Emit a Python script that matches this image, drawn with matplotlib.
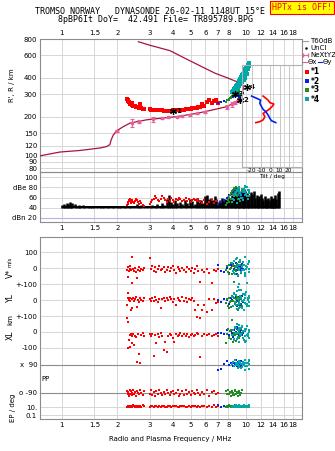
import numpy as np
import matplotlib
matplotlib.use('Agg')
import matplotlib.pyplot as plt
from matplotlib.lines import Line2D

plt.rcParams['font.family'] = 'DejaVu Sans'
plt.rcParams['font.size'] = 5

# ---- frequency axis ----
xticks_main = [1, 1.5, 2, 3, 4, 5, 6, 7, 8, 10, 12, 14, 16, 18]
xticks_amp = [1, 1.5, 2, 3, 4, 5, 6, 7, 8, 9, 10, 12, 14, 16, 18]

# ---- electron density profile (plasma freq MHz, height km) ----
prof_f = [0.76, 0.975, 1.25, 1.61, 1.75, 1.82, 1.85, 1.9, 1.98, 2.15, 2.34, 2.89, 3.4, 4.2,
          5.4, 6.36, 7.86, 8.5, 9.1, 9.5, 9.65, 9.6, 8.9, 8.0, 6.78, 5.74, 4.66, 3.86, 3.01, 2.6]
prof_h = [100, 107, 110, 115, 118, 122, 133, 145, 156, 168, 179, 190, 195, 201,
          213, 224, 240, 255, 270, 300, 330, 353, 374, 398, 435, 489, 567, 650, 715, 762]

# profile points with error bars (NeXtYZ)
err_f = [1.98, 2.39, 2.63, 3.13, 3.48, 3.78, 4.2, 4.47, 4.96, 5.4, 6.0, 7.86, 8.38, 8.7, 9.07]
err_h = [156, 179, 184, 192, 195, 198, 201, 204, 208, 213, 219, 240, 250, 258, 266]
err_d = [3, 12, 6, 8, 3, 3, 3, 3, 3, 3, 3, 8, 10, 8, 6]

# ---- tilt profiles (deg, km) ----
tx_deg = [-7.8, -2.4, -0.5, 3.8, 2.4, -1.3, -4.9, -7.8, -5.9, -7.8, -11.4, -15.7]
tx_h = [290, 270, 258, 252, 243, 229, 220, 213, 201, 190, 184, 181]
ty_deg = [-20.3, -14.9, -10.6, -11.4, -9.5, -7.8, -4.9, -2.4, -0.5, 1.3, 5.9]
ty_h = [290, 279, 270, 255, 240, 229, 220, 207, 195, 187, 181]

# ---- echoes: *1 red ----
red_f = [2.25, 2.27, 2.29, 2.31, 2.33, 2.35, 2.37, 2.39, 2.41, 2.43, 2.46, 2.49, 2.52, 2.55, 2.58,
         2.62, 2.66, 2.7, 2.75, 2.8, 3.0, 3.05, 3.1, 3.15, 3.2, 3.26, 3.32, 3.38, 3.44, 3.5,
         3.57, 3.64, 3.71, 3.78, 3.85, 3.92, 4.0, 4.08, 4.16, 4.24, 4.32, 4.4, 4.5, 4.6, 4.7,
         4.8, 4.9, 5.0, 5.1, 5.2, 5.3, 5.4, 5.5, 5.6, 5.75, 5.9, 6.1, 6.3, 6.5, 6.7, 6.9, 7.0]
red_h = [275, 270, 265, 260, 256, 253, 250, 258, 246, 244, 243, 241, 240, 238, 237,
         236, 250, 233, 232, 231, 229, 228, 228, 227, 227, 226, 226, 225, 225, 225,
         224, 224, 224, 224, 224, 224, 225, 225, 225, 226, 226, 227, 227, 228, 229,
         230, 231, 232, 233, 234, 235, 236, 238, 240, 252, 244, 262, 270, 258, 266, 270, 258]
red_amp = [46, 48, 52, 55, 54, 57, 50, 53, 56, 52, 49, 54, 57, 55, 51, 48, 53, 50, 46, 44,
           48, 52, 55, 58, 62, 60, 56, 53, 58, 63, 60, 55, 52, 57, 54, 59, 56, 52, 58, 55,
           60, 57, 53, 56, 59, 54, 57, 52, 55, 58, 56, 53, 57, 54, 50, 55, 48, 52, 56, 50, 54, 47]
red_v = [-10, 5, -54, -20, -5, 12, -15, 70, -94, -8, -18, 3, -25, -62, -12, 8, -20, -5, -15, 2,
         65, -8, 10, -18, 5, -22, -3, 12, -15, -6, 8, -25, -10, 4, -18, -2, 10, -14, -28, 6,
         -8, -20, 3, -12, -24, 9, -5, -16, 2, -30, -8, 12, -18, -86, -10, -22, -6, -30, -96, -14, -20, -8]
red_yl = [-31, 10, 44, 2, -8, 15, -62, 5, -50, 12, -5, 8, 18, -42, 3, -10, 14, 0, -6, 10,
          6, -4, 12, -8, 16, 2, -12, 8, -50, 4, 14, -6, 10, -2, 18, 5, -10, 8, -30, 12,
          2, -8, 16, -4, 10, -14, 6, 0, 12, -8, -62, -104, -31, -112, -62, -31, -73, 4, -62, 8, -20, -10]
red_xl = [86, 64, -102, -50, -20, -92, -15, -71, -25, -10, -81, -22, -30, -185, -12,
          -138, -195, -18, -8, -25, -15, -28, -10, -150, -20, -71, -12, -30, -8, -22,
          -113, -61, -123, -28, -10, -20, -35, -61, -12, -25, -18, -8, -28, -15, -22,
          -10, -30, -18, -12, -26, -20, -8, -15, -154, -25, -10, -20, -12, -28, -18, -10, -22]
red_pp = [-75, -100, -85, -110, -70, -95, -80, -105, -90, -72, -98, -84, -108, -76, -92, -100, -70, -88, -104, -80,
          -94, -74, -102, -86, -110, -78, -96, -70, -90, -106, -82, -98, -74, -92, -104, -86, -76, -100, -88, -72,
          -108, -94, -80, -102, -70, -96, -84, -106, -78, -92, -100, -74, -88, -104, -82, -96, -72, -108, -86, -76, -100, -90]
red_ep = [12, 18, 10, 22, 15, 9, 20, 14, 11, 25, 16, 8, 19, 13, 21, 10, 17, 12, 24, 15,
          11, 18, 14, 9, 22, 16, 12, 20, 10, 15, 19, 13, 8, 17, 23, 11, 14, 20, 16, 9,
          12, 18, 15, 22, 10, 13, 19, 11, 16, 21, 14, 9, 18, 12, 15, 20, 10, 17, 13, 24, 11, 16]

# ---- echoes: *2 blue ----
blue_f = [7.0, 7.3, 7.6, 7.9, 8.1, 8.3, 8.5, 8.6, 8.7, 8.8, 8.9, 9.0, 9.1, 9.2, 9.3, 9.4, 9.5, 9.6, 8.4, 8.95, 9.15, 9.35]
blue_h = [258, 262, 266, 272, 276, 280, 284, 288, 290, 292, 294, 296, 298, 300, 290, 296, 302, 305, 286, 300, 286, 294]
blue_amp = [48, 52, 56, 60, 64, 66, 70, 72, 68, 74, 76, 70, 66, 72, 62, 68, 74, 60, 58, 64, 70, 66]
blue_v = [18, -20, -25, 2, -30, 20, 25, -5, 15, 30, -10, 5, 35, 22, -15, 8, 28, -8, 10, -38, 12, 0]
blue_yl = [-2, -10, 5, 0, -28, 12, -8, 15, -20, 20, -5, 10, -30, -14, 6, -22, 25, -10, 0, -35, 18, -40]
blue_xl = [-8, -5, -12, 10, -20, 5, -30, 15, -10, -2, 20, -15, 8, -25, 0, 12, -18, -5, -8, 30, -28, -12]
blue_pp = [60, 65, 95, 115, 90, 105, 85, 100, 95, 120, 80, 110, 90, 100, 85, 115, 95, 105, 100, 90, 110, 88]
blue_ep = [35, 12, 20, 10, 18, 14, 22, 11, 16, 25, 13, 9, 19, 12, 17, 21, 10, 14, 16, 12, 20, 11]

# ---- echoes: *3 green ----
green_f = [7.8, 7.9, 8.0, 8.1, 8.2, 8.3, 8.4, 8.5, 8.6, 8.7, 8.8, 8.9, 9.0, 9.1, 9.2, 9.3, 9.4, 9.5,
           8.05, 8.25, 8.45, 8.65, 8.85, 9.05]
green_h = [262, 268, 272, 276, 280, 284, 288, 292, 296, 300, 304, 308, 312, 316, 306, 300, 296, 310,
           270, 282, 290, 300, 298, 305]
green_amp = [46, 50, 55, 60, 64, 68, 72, 75, 78, 70, 66, 62, 58, 74, 68, 54, 60, 72, 52, 58, 66, 76, 80, 64]
green_v = [-15, 10, -25, 20, -5, 30, -35, 15, -90, 5, -20, 25, -8, 40, -12, 18, -28, 10, -40, -2, 22, -15, 8, -50]
green_yl = [-20, 5, -35, 15, -10, -45, 25, -5, 10, -28, -15, 20, -60, 0, 12, -22, 8, -38, -50, -8, 18, -12, 5, -30]
green_xl = [-70, -10, 20, -30, 5, -45, 75, -20, -5, 25, -55, -15, 10, -35, 0, -25, 18, -8, -40, 12, -65, -20, 28, -5]
green_pp = [-80, -100, -70, -95, -85, -110, -75, -90, -105, -72, -98, -82, -108, -88, -76, -102, -92, -70,
            -96, -84, -106, -78, -94, -88]
green_ep = [12, 18, 9, 22, 14, 10, 20, 16, 11, 25, 13, 8, 19, 15, 21, 10, 17, 12, 24, 14, 9, 18, 11, 16]

# ---- echoes: *4 cyan ----
cyan_f = [8.4, 8.5, 8.6, 8.7, 8.8, 8.9, 9.0, 9.1, 9.2, 9.3, 9.4, 9.5, 9.6, 9.7, 9.8, 9.9, 10.0, 10.1, 10.2,
          10.3, 10.4, 8.6, 8.8, 9.0, 9.2, 9.4, 9.6, 9.8, 10.0, 10.2, 10.3, 8.9, 9.1, 9.3, 9.5, 9.7, 9.9, 10.1, 10.35]
cyan_h = [312, 318, 326, 335, 345, 352, 362, 372, 382, 392, 405, 418, 430, 442, 455, 465, 478, 490, 500,
          512, 522, 308, 322, 335, 350, 370, 395, 420, 445, 470, 495, 330, 345, 360, 375, 388, 400, 430, 505]
cyan_amp = [52, 58, 62, 66, 70, 74, 78, 80, 72, 68, 64, 60, 56, 76, 82, 70, 66, 62, 58, 74,
            68, 55, 64, 72, 78, 60, 70, 80, 66, 74, 62, 50, 58, 68, 76, 72, 64, 80, 70]
cyan_v = [30, -20, 45, -35, 10, 60, -44, 20, -10, 50, -25, 5, 35, -15, 70, -40, 15, -94, 25, -5,
          40, -30, 55, -120, 0, -137, 18, -50, -8, 28, -22, 12, -100, 38, -12, 22, -28, 8, 45]
cyan_yl = [20, -35, 45, -10, 30, -55, 5, -25, 60, -45, 15, -5, 35, -60, 10, -20, 50, -40, 0, 25,
           -15, 40, -30, 8, -50, 18, -8, 30, -22, 12, -38, 55, -12, 22, -48, 2, 38, -28, 10]
cyan_xl = [-20, 15, -45, 30, -5, 50, -30, 10, -60, 25, -15, 40, -40, 5, -25, 20, -55, 35, -10, -35,
           15, -50, 28, -8, 45, -20, 8, -65, 18, -28, 0, -42, 22, -12, 32, -52, 6, -18, 12]
cyan_pp = [95, 110, 80, 120, 90, 105, 70, 115, 85, 100, 95, 75, 110, 90, 120, 60, 100, 85, 105, 95,
           115, 80, 100, 90, 110, 70, 95, 105, 85, 100, 120, 90, 75, 110, 95, 100, 85, 105, 65]
cyan_ep = [10, 15, 8, 20, 12, 18, 9, 25, 14, 11, 22, 16, 10, 30, 13, 19, 8, 15, 21, 12,
           17, 9, 24, 14, 11, 18, 13, 20, 10, 16, 28, 12, 15, 9, 19, 14, 22, 11, 17]

# trace labels (freq, height, label)
mark_f = [4.0, 9.3, 8.75, 10.06]
mark_h = [222, 272, 302, 339]
mark_txt = ['1', '2', '3', '4']

# ---- noise amplitude (black) ----
noise_f = [1.0, 1.02, 1.04, 1.06, 1.08, 1.1, 1.12, 1.14,
           1.17, 1.2, 1.23, 1.26, 1.3, 1.34, 1.38, 1.42, 1.46,
           1.5, 1.55, 1.6, 1.65, 1.7, 1.75, 1.8, 1.86, 1.92, 1.98,
           2.04, 2.1, 2.17, 2.24, 2.31, 2.38, 2.46, 2.54, 2.62, 2.7, 2.8, 2.9,
           3.0, 3.1, 3.2, 3.3, 3.4, 3.5, 3.6, 3.7, 3.8, 3.9, 4.0, 4.1, 4.2,
           4.35, 4.5, 4.65, 4.8, 4.95, 5.1, 5.25, 5.4, 5.55, 5.7, 5.85, 6.0,
           6.15, 6.3, 6.45, 6.6, 6.75, 6.9, 7.05, 7.2, 7.35, 7.5,
           7.65, 7.8, 7.95, 8.1, 8.25, 8.4, 8.55, 8.7, 8.85, 9.0,
           9.15, 9.3, 9.45, 9.6, 9.75, 9.9, 10.05, 10.2,
           10.4, 10.6, 10.8, 11.0, 11.2, 11.4, 11.6, 11.8, 12.0,
           12.2, 12.4, 12.6, 12.8, 13.0, 13.2, 13.4, 13.6, 13.8, 14.0, 14.2, 14.4, 14.6, 14.8, 15.0]
noise_top = [46, 48, 44, 50, 47, 52, 45, 49,
             47, 44, 46, 43, 45, 42, 44, 43, 42,
             43, 42, 44, 42, 43, 42, 43, 42, 44, 42,
             42, 43, 42, 42, 43, 44, 42, 47, 43, 45, 42, 44,
             43, 45, 42, 48, 44, 50, 46, 58, 65, 52, 48, 55, 50,
             52, 48, 56, 50, 58, 54, 48, 60, 52, 56, 50, 62,
             64, 58, 60, 55, 62, 58, 52, 56, 60, 54,
             58, 56, 62, 60, 58, 64, 62, 68, 66, 70,
             72, 68, 74, 70, 76, 72, 68, 64,
             62, 70, 66, 72, 60, 64, 58, 62, 66,
             60, 56, 62, 58, 54, 60, 56, 62, 58, 60, 56, 64, 58, 68, 72]

# ---- bottom block row positions (axis units) ----
ROW_V, ROW_YL, ROW_XL = 0, -200, -400
PP_X90, PP_O90 = -606, -781
EP_10, EP_01 = -869, -919


def pp_y(pp):
    return PP_O90 + (np.asarray(pp) + 90) * (PP_X90 - PP_O90) / 180.0


def ep_y(ep):
    return EP_01 + (np.log10(ep) + 1) * (EP_10 - EP_01) / 2.0


W, H = 335.0, 451.0


def box(l, t, r, b):
    return [l / W, 1 - b / H, (r - l) / W, (b - t) / H]


fig = plt.figure(figsize=(3.35, 4.51), dpi=100)
ax1 = fig.add_axes(box(40, 39, 302, 172))
ax2 = fig.add_axes(box(40, 172, 302, 222))
ax3 = fig.add_axes(box(40, 237, 302, 419))
axt = fig.add_axes(box(241.7, 65, 301.7, 167))

gcol = '#d6d6d6'
for ax in (ax1, ax2, ax3):
    ax.set_facecolor('none')
    ax.set_xscale('log')
    ax.set_xlim(0.76, 20.1)
    ax.tick_params(length=0, labelsize=5, pad=2)
    ax.grid(True, color=gcol, lw=0.7)
    ax.set_axisbelow(True)
    for s in ax.spines.values():
        s.set_color('#8c8c8c')
        s.set_linewidth(0.8)

# top panel
ax1.set_yscale('log')
ax1.set_ylim(75, 800)
for ax in (ax1, ax2, ax3):
    ax.minorticks_off()
ax1.set_xticks(xticks_main)
ax1.set_xticklabels([str(t) for t in xticks_main])
ax1.tick_params(labeltop=True, labelbottom=False)
yt1 = [80, 90, 100, 120, 150, 200, 300, 400, 600, 800]
ax1.set_yticks(yt1)
ax1.set_yticklabels([str(t) for t in yt1])
ax1.minorticks_off()

ax1.plot(prof_f, prof_h, color='#a8143c', lw=0.9, zorder=3)
ax1.errorbar(err_f, err_h, yerr=err_d, fmt='s', ms=1.6, color='#e8609a', ecolor='#e8609a',
             elinewidth=0.8, capsize=1.5, capthick=0.8, zorder=4)

ms = 1.8
ax1.plot(red_f, red_h, 's', color='#ff0000', ms=2.2, mew=0, zorder=5)
ax1.plot(blue_f, blue_h, 's', color='#0022ee', ms=2.0, mew=0, zorder=5)
ax1.plot(green_f, green_h, 's', color='#228b22', ms=2.0, mew=0, zorder=5)
ax1.plot(cyan_f, cyan_h, 's', color='#00a8a8', ms=2.2, mew=0, zorder=5)
for f, h, t in zip(mark_f, mark_h, mark_txt):
    ax1.plot(f, h, marker=(6, 2, 0), color='black', ms=5, mew=0.9, zorder=6)
    ax1.annotate(t, (f, h), xytext=(2.5, 0), textcoords='offset points', fontsize=5,
                 fontweight='bold', va='center', zorder=6)

# tilt inset
axt.set_facecolor('none')
axt.set_yscale('log')
axt.set_ylim(82.2, 504)
axt.set_xlim(-31, 34)
axt.minorticks_off()
axt.set_yticks([])
axt.set_xticks([-20, -10, 0, 10, 20])
axt.set_xticklabels(['-20', '-10', '0', '10', '20'])
axt.tick_params(length=0, labelsize=4.2, pad=0.8)
axt.set_xlabel('Tilt / deg', fontsize=4.2, labelpad=0.3)
axt.grid(True, axis='x', color='#c8c8c8', lw=0.7)
for s in axt.spines.values():
    s.set_color('#b0b0b0')
    s.set_linewidth(0.8)
axt.plot(tx_deg, tx_h, color='#ff0000', lw=1.2)
axt.plot(ty_deg, ty_h, color='#0022ee', lw=1.2)

# amplitude panel
ax2.set_ylim(12, 110)
ax2.set_xticks(xticks_amp)
ax2.set_xticklabels([str(t) for t in xticks_amp])
ax2.set_yticks([20, 40, 60, 80, 100])
ax2.set_yticklabels(['dBn 20', '40', '60', 'dBe 80', '100'])
ax2.minorticks_off()
ax2.axhline(20, color='#b4b4e6', lw=0.8, zorder=1)
ax2.vlines(noise_f, 40, noise_top, color='black', lw=1.8, zorder=3)
ax2.fill_between(noise_f, 40, 42.5, color='black', lw=0, zorder=3)
ax2.plot(red_f, red_amp, 's', color='#ff0000', ms=ms, mew=0, zorder=4)
ax2.plot(blue_f, blue_amp, 's', color='#0022ee', ms=ms, mew=0, zorder=4)
ax2.plot(green_f, green_amp, 's', color='#228b22', ms=ms, mew=0, zorder=4)
ax2.plot(cyan_f, cyan_amp, 's', color='#00a8a8', ms=ms, mew=0, zorder=4)

# bottom block
ax3.set_ylim(-944, 194)
ax3.set_xticks(xticks_main)
ax3.set_xticklabels([str(t) for t in xticks_main])
yt3 = [100, 0, -100, -200, -300, -400, -500, PP_X90, PP_O90, EP_10, EP_01]
ax3.set_yticks(yt3)
ax3.set_yticklabels(['100', '0', '+-100', '0', '+-100', '0', '-100', 'x  90', 'o -90', '10.', '0.1'])
ax3.minorticks_off()
ax3.axhline(PP_X90, color='#8c8c8c', lw=0.8, zorder=1)
ax3.axhline(PP_O90, color='#8c8c8c', lw=0.8, zorder=1)

series = [
    (red_f, red_v, red_yl, red_xl, red_pp, red_ep, '#ff0000'),
    (blue_f, blue_v, blue_yl, blue_xl, blue_pp, blue_ep, '#0022ee'),
    (green_f, green_v, green_yl, green_xl, green_pp, green_ep, '#228b22'),
    (cyan_f, cyan_v, cyan_yl, cyan_xl, cyan_pp, cyan_ep, '#00a8a8'),
]
for f, v, yl, xl, pp, ep, c in series:
    ax3.plot(f, np.asarray(v) + ROW_V, 's', color=c, ms=ms, mew=0, zorder=4)
    ax3.plot(f, np.asarray(yl) + ROW_YL, 's', color=c, ms=ms, mew=0, zorder=4)
    ax3.plot(f, np.asarray(xl) + ROW_XL, 's', color=c, ms=ms, mew=0, zorder=4)
    ax3.plot(f, pp_y(pp), 's', color=c, ms=ms, mew=0, zorder=4)
    ax3.plot(f, ep_y(ep), 's', color=c, ms=ms, mew=0, zorder=4)


def ftext(x, y, s, **kw):
    fig.text(x / W, 1 - y / H, s, **kw)


# titles
ftext(150, 12, 'TROMSO NORWAY   DYNASONDE 26-02-11 1148UT 15\u00b0E', family='DejaVu Sans Mono',
      fontsize=6, ha='center', va='center')
ftext(156, 20, '8pBP6It DoY=  42.491 File= TR895789.BPG', family='DejaVu Sans Mono',
      fontsize=6, ha='center', va='center')
ftext(302, 7.5, 'HPTx is OFF!', family='DejaVu Sans Mono', fontsize=6, color='red',
      ha='center', va='center', bbox=dict(facecolor='yellow', edgecolor='red', pad=1.2, lw=0.8))

# axis labels
ftext(12, 85, "R', R / km", rotation=90, fontsize=5, ha='center', va='center')
ftext(10, 262, 'm/s', rotation=90, fontsize=4, ha='center', va='center')
ftext(10, 273, 'V*', rotation=90, fontsize=5.5, ha='center', va='center')
ftext(10, 298, 'YL', rotation=90, fontsize=5.5, ha='center', va='center')
ftext(10, 320, 'km', rotation=90, fontsize=5, ha='center', va='center')
ftext(10, 335, 'XL', rotation=90, fontsize=5.5, ha='center', va='center')
ftext(46, 379, 'PP', fontsize=5, ha='center', va='center')
ftext(13, 408, 'EP / deg', rotation=90, fontsize=5, ha='center', va='center')
ftext(170, 439, 'Radio and Plasma Frequency / MHz', fontsize=5, ha='center', va='center')

# legend at right
ftext(310, 41, 'T60dB', fontsize=5, va='center')
fig.add_artist(Line2D([303 / W, 308 / W], [1 - 41 / H, 1 - 41 / H], color='#a0a0a0', lw=0.8))
ftext(310, 48, 'UnCl', fontsize=5, va='center')
fig.add_artist(Line2D([306 / W], [1 - 48 / H], marker='.', color='black', ms=1.5, lw=0))
ftext(310, 55, 'NeXtYZ', fontsize=5, va='center')
fig.add_artist(Line2D([303 / W, 308 / W], [1 - 55 / H, 1 - 55 / H], color='#e8609a', lw=0.8,
                      marker='|', ms=3))
fig.add_artist(Line2D([303 / W, 307 / W], [1 - 62 / H, 1 - 62 / H], color='#e8609a', lw=0.8))
ftext(308, 62, '\u0398x', fontsize=5, va='center')
fig.add_artist(Line2D([318 / W, 322 / W], [1 - 62 / H, 1 - 62 / H], color='#0022ee', lw=0.8))
ftext(323, 62, '\u0398y', fontsize=5, va='center')
for i, c in enumerate(['#ff0000', '#0022ee', '#228b22', '#00a8a8']):
    y = 72 + i * 9
    fig.add_artist(Line2D([307 / W], [1 - y / H], marker='s', color=c, ms=2.5, lw=0, mew=0))
    ftext(311, y, '*' + str(i + 1), fontsize=5.5, fontweight='bold', va='center')

fig.savefig('out.png', dpi=100)
